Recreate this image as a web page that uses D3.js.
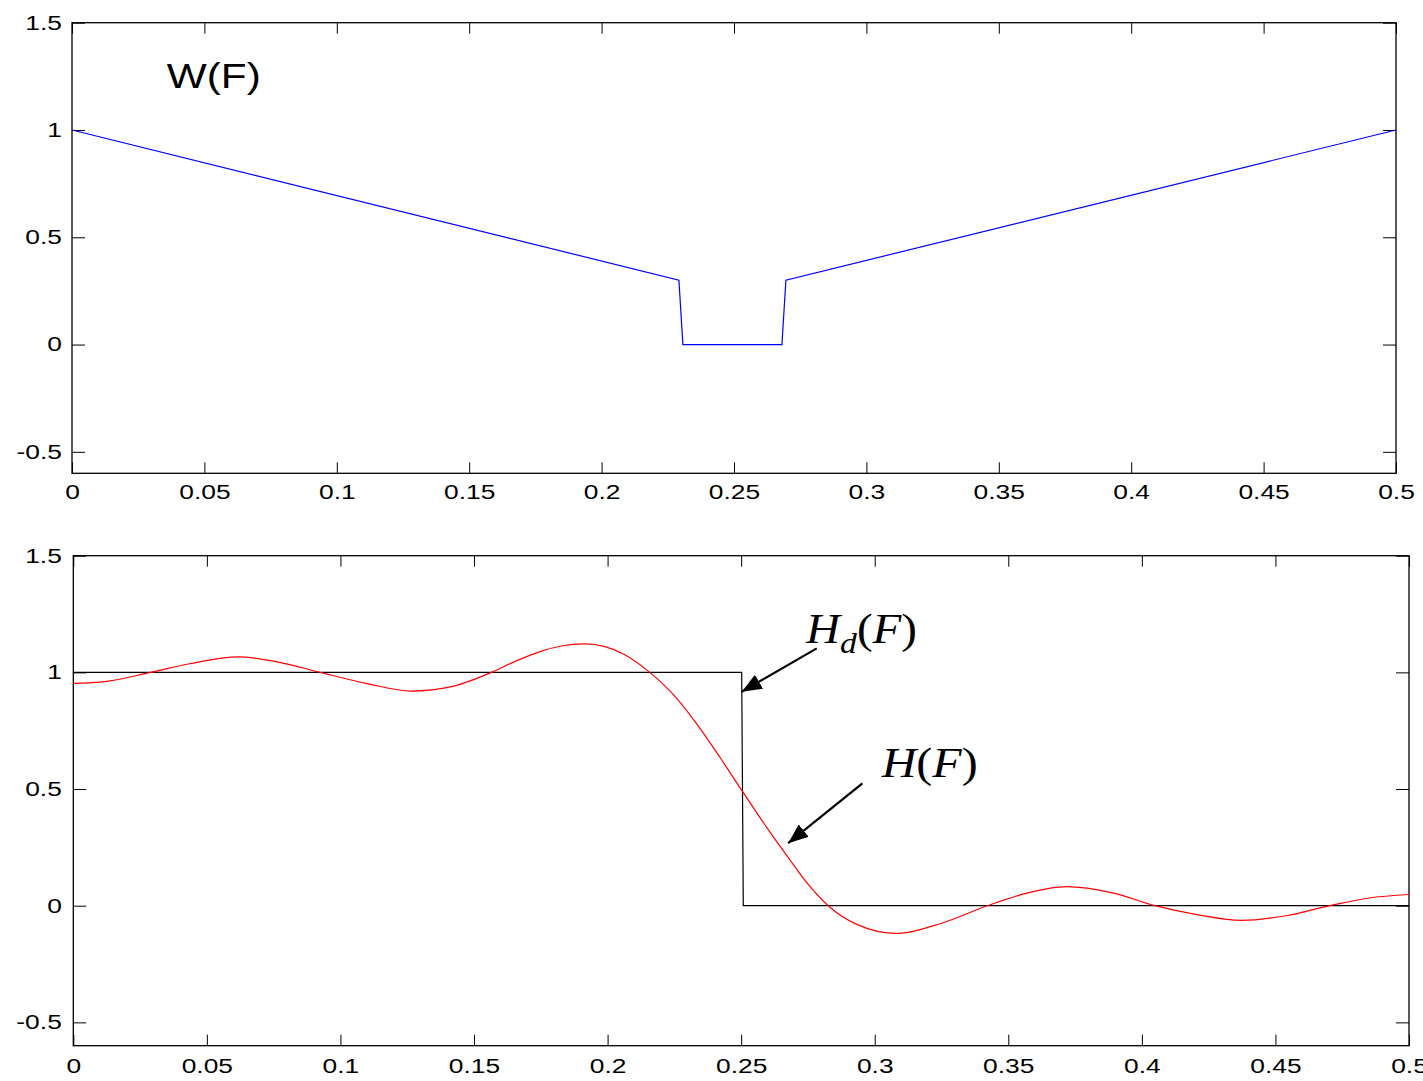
<!DOCTYPE html>
<html>
<head>
<meta charset="utf-8">
<script src="https://cdn.jsdelivr.net/npm/d3@7"></script>
<style>
  html, body { margin: 0; padding: 0; background: #fff; }
  svg { display: block; }
</style>
</head>
<body>
<svg id="chart" width="1423" height="1081"></svg>
<script>
// ---------- data ----------
const xTicks = [0, 0.05, 0.1, 0.15, 0.2, 0.25, 0.3, 0.35, 0.4, 0.45, 0.5];
const xTickLabels = ["0", "0.05", "0.1", "0.15", "0.2", "0.25", "0.3", "0.35", "0.4", "0.45", "0.5"];
const yTicks = [-0.5, 0, 0.5, 1, 1.5];
const yTickLabels = ["-0.5", "0", "0.5", "1", "1.5"];

// Weighting function W(F)
const wFreq = [0, 0.2292, 0.2307, 0.2681, 0.2696, 0.5];
const wValues = [1, 0.3, 0, 0, 0.3, 1];

// Desired response Hd(F)
const hdFreq = [0, 0.2502, 0.2508, 0.5];
const hdValues = [1, 1, 0, 0];

// Designed response H(F)
const hFreq = [0, 0.010, 0.029, 0.0436, 0.0617, 0.078, 0.0924, 0.110, 0.1264, 0.142, 0.1565, 0.165,
               0.1747, 0.1822, 0.1915, 0.2059, 0.2158, 0.2258, 0.2346, 0.2421, 0.2502,
               0.2596, 0.2671, 0.2745, 0.2826, 0.2933, 0.3083, 0.325, 0.3422, 0.357, 0.3718,
               0.389, 0.4049, 0.421, 0.4373, 0.454, 0.4704, 0.485, 0.5];
const hValues = [0.953, 0.958, 1.0, 1.037, 1.066, 1.041, 1.0, 0.952, 0.920, 0.94, 1.0, 1.045,
                 1.089, 1.112, 1.122, 1.079, 1.0, 0.890, 0.760, 0.635, 0.495,
                 0.335, 0.215, 0.100, 0.0, -0.080, -0.119, -0.075, 0.0, 0.054, 0.0815,
                 0.055, 0.0, -0.039, -0.063, -0.043, 0.0, 0.033, 0.048];

// ---------- drawing ----------
const svg = d3.select("#chart");
const fontSans = '"Liberation Sans", Arial, sans-serif';
const fontSerif = '"Liberation Serif", "Times New Roman", serif';
const stretch = 1.32;

function makePanel(box, labelPad, yPad) {
  const x = d3.scaleLinear().domain([0, 0.5]).range([box.left, box.right]);
  const y = d3.scaleLinear().domain([-0.6, 1.5]).range([box.bottom, box.top]);
  const g = svg.append("g");

  const fmtX = (d, i) => xTickLabels[i];
  const fmtY = (d, i) => yTickLabels[i];

  const axB = g.append("g").attr("transform", `translate(0,${box.bottom})`)
    .call(d3.axisBottom(x).tickValues(xTicks).tickFormat(fmtX).tickSizeInner(-11).tickSizeOuter(0).tickPadding(labelPad));
  const axT = g.append("g").attr("transform", `translate(0,${box.top})`)
    .call(d3.axisTop(x).tickValues(xTicks).tickFormat("").tickSizeInner(-11).tickSizeOuter(0));
  const axL = g.append("g").attr("transform", `translate(${box.left},0)`)
    .call(d3.axisLeft(y).tickValues(yTicks).tickFormat(fmtY).tickSizeInner(-13).tickSizeOuter(0).tickPadding(yPad / stretch));
  const axR = g.append("g").attr("transform", `translate(${box.right},0)`)
    .call(d3.axisRight(y).tickValues(yTicks).tickFormat("").tickSizeInner(-13).tickSizeOuter(0));

  [axB, axT, axL, axR].forEach(a => {
    a.select(".domain").remove();
    a.selectAll(".tick line").attr("stroke", "#000").attr("stroke-width", 1);
    a.selectAll(".tick text")
      .attr("font-family", fontSans).attr("font-size", 20).attr("fill", "#000")
      .attr("transform", `scale(${stretch},1)`);
  });

  g.append("rect")
    .attr("x", box.left).attr("y", box.top)
    .attr("width", box.right - box.left).attr("height", box.bottom - box.top)
    .attr("fill", "none").attr("stroke", "#000").attr("stroke-width", 1.3);

  return { x, y, g };
}

// Top panel
const topPanel = makePanel({ left: 72, right: 1396, top: 22.7, bottom: 473.3 }, 11.5, 10);
const lineTop = d3.line().x(d => topPanel.x(d[0])).y(d => topPanel.y(d[1]));
topPanel.g.append("path")
  .datum(wFreq.map((f, i) => [f, wValues[i]]))
  .attr("d", lineTop)
  .attr("fill", "none").attr("stroke", "#0000ff").attr("stroke-width", 1.2);

topPanel.g.append("text")
  .attr("x", topPanel.x(0.0358)).attr("y", topPanel.y(1.194))
  .attr("font-family", fontSans).attr("font-size", 35)
  .attr("textLength", 94).attr("lengthAdjust", "spacingAndGlyphs")
  .text("W(F)");

// Bottom panel
const botPanel = makePanel({ left: 73.3, right: 1409, top: 555.7, bottom: 1045.7 }, 13, 11.5);
const lineBot = d3.line().x(d => botPanel.x(d[0])).y(d => botPanel.y(d[1]));
botPanel.g.append("path")
  .datum(hdFreq.map((f, i) => [f, hdValues[i]]))
  .attr("d", lineBot)
  .attr("fill", "none").attr("stroke", "#000").attr("stroke-width", 1.2);

const curveBot = d3.line().x(d => botPanel.x(d[0])).y(d => botPanel.y(d[1])).curve(d3.curveMonotoneX);
botPanel.g.append("path")
  .datum(hFreq.map((f, i) => [f, hValues[i]]))
  .attr("d", curveBot)
  .attr("fill", "none").attr("stroke", "#ff0000").attr("stroke-width", 1.2);

// Arrow marker
svg.append("defs").append("marker")
  .attr("id", "arrow").attr("viewBox", "0 0 20 16")
  .attr("refX", 20).attr("refY", 8)
  .attr("markerWidth", 20).attr("markerHeight", 16)
  .attr("markerUnits", "userSpaceOnUse")
  .attr("orient", "auto")
  .append("path").attr("d", "M0,0 L20,8 L0,16 Z").attr("fill", "#000");

const arrows = [
  { from: [0.2783, 1.103], to: [0.2502, 0.917] },
  { from: [0.2954, 0.524], to: [0.2676, 0.268] }
];
arrows.forEach(a => {
  botPanel.g.append("line")
    .attr("x1", botPanel.x(a.from[0])).attr("y1", botPanel.y(a.from[1]))
    .attr("x2", botPanel.x(a.to[0])).attr("y2", botPanel.y(a.to[1]))
    .attr("stroke", "#000").attr("stroke-width", 2.2)
    .attr("marker-end", "url(#arrow)");
});

// Hd(F) label
const hd = botPanel.g.append("text")
  .attr("x", botPanel.x(0.2743)).attr("y", botPanel.y(1.127))
  .attr("font-family", fontSerif).attr("font-size", 42).attr("fill", "#000")
  .attr("textLength", 111).attr("lengthAdjust", "spacingAndGlyphs");
hd.append("tspan").attr("font-style", "italic").text("H");
hd.append("tspan").attr("font-style", "italic").attr("font-size", 30).attr("dy", 10).text("d");
hd.append("tspan").attr("dy", -10).text("(");
hd.append("tspan").attr("font-style", "italic").text("F");
hd.append("tspan").text(")");

// H(F) label
const hl = botPanel.g.append("text")
  .attr("x", botPanel.x(0.3026)).attr("y", botPanel.y(0.552))
  .attr("font-family", fontSerif).attr("font-size", 42).attr("fill", "#000")
  .attr("textLength", 96).attr("lengthAdjust", "spacingAndGlyphs");
hl.append("tspan").attr("font-style", "italic").text("H");
hl.append("tspan").text("(");
hl.append("tspan").attr("font-style", "italic").text("F");
hl.append("tspan").text(")");
</script>
</body>
</html>
